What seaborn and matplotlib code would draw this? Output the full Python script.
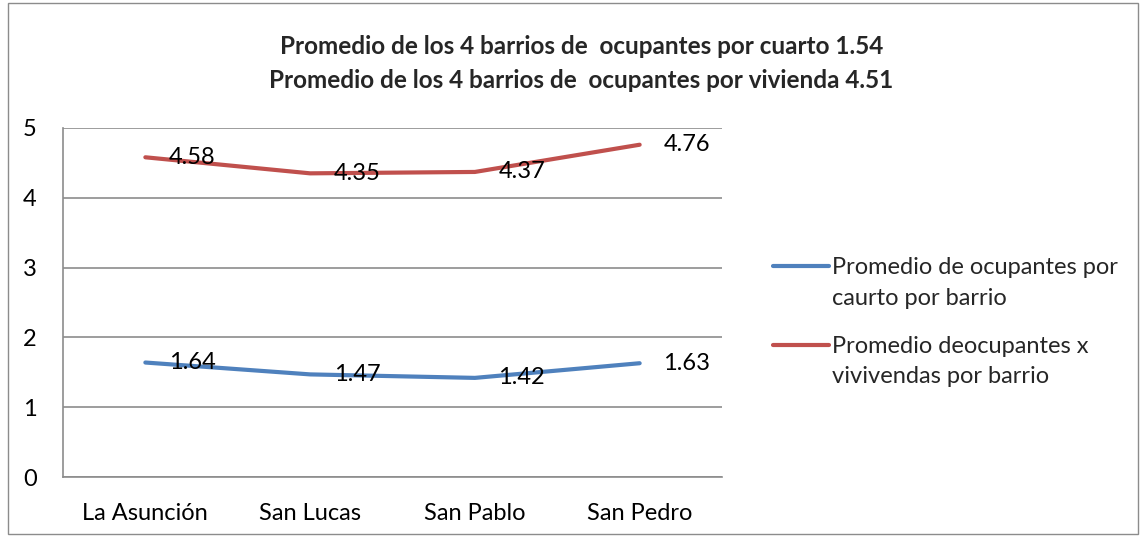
import matplotlib
matplotlib.use("Agg")
import matplotlib.pyplot as plt
import seaborn as sns
import pandas as pd
from matplotlib.patches import Rectangle
from matplotlib.legend_handler import HandlerLine2D

categories = ["La Asunción", "San Lucas", "San Pablo", "San Pedro"]
cuarto = [1.64, 1.47, 1.42, 1.63]
vivienda = [4.58, 4.35, 4.37, 4.76]
series_names = ["Promedio de ocupantes por\ncaurto por barrio",
                "Promedio deocupantes x\nvivivendas por barrio"]
title = ("Promedio de los 4 barrios de  ocupantes por cuarto 1.54\n"
         "Promedio de los 4 barrios de  ocupantes por vivienda 4.51")
colors = ["#4F81BD", "#C0504D"]

sns.set_theme(style="white")
plt.rcParams['font.family'] = ['Lato', 'DejaVu Sans']

FS = 17

df = pd.DataFrame({
    "x": list(range(len(categories))) * 2,
    "y": cuarto + vivienda,
    "serie": [series_names[0]] * 4 + [series_names[1]] * 4,
})


class ShiftedLine(HandlerLine2D):
    def __init__(self, dy, **kw):
        super().__init__(**kw)
        self.dy = dy

    def create_artists(self, legend, orig_handle, xdescent, ydescent,
                       width, height, fontsize, trans):
        arts = super().create_artists(legend, orig_handle, xdescent, ydescent,
                                      width, height, fontsize, trans)
        for a in arts:
            a.set_ydata([y + self.dy for y in a.get_ydata()])
        return arts


fig = plt.figure(figsize=(11.47, 5.37), dpi=100)
ax = fig.add_axes([0.0549, 0.1117, 0.5746, 0.650])
sns.lineplot(data=df, x="x", y="y", hue="serie", palette=colors, linewidth=3.0,
             ax=ax, legend=True, solid_capstyle="round")

ax.set_xlim(-0.5, 3.5)
ax.set_ylim(0, 5)
ax.set_xticks(range(len(categories)))
ax.set_xticklabels(categories)
ax.set_yticks(range(0, 6))
ax.tick_params(axis="x", length=0, pad=19, labelsize=FS, colors="black")
ax.tick_params(axis="y", length=0, pad=19, labelsize=FS, colors="black")
ax.set_xlabel("")
ax.set_ylabel("")
ax.yaxis.grid(True, color="#8c8c8c", linewidth=1.2)
ax.set_axisbelow(True)
for s in ["top", "right"]:
    ax.spines[s].set_visible(False)
for s in ["left", "bottom"]:
    ax.spines[s].set_color("#8c8c8c")
    ax.spines[s].set_linewidth(1.2)

for vals in (cuarto, vivienda):
    for i, v in enumerate(vals):
        ax.annotate(f"{v:.2f}", (i, v), xytext=(17, 0), textcoords="offset points",
                    ha="left", va="center", fontsize=FS, color="black")

handles, labels = ax.get_legend_handles_labels()
leg = ax.legend(handles, labels, loc="center left", bbox_to_anchor=(0.655, 0.40),
                bbox_transform=fig.transFigure, frameon=False, fontsize=FS,
                handlelength=2.4, handletextpad=0.12, labelspacing=1.15,
                handler_map={h: ShiftedLine(12.3) for h in handles})
for line in leg.get_lines():
    line.set_linewidth(3.0)
for t in leg.get_texts():
    t.set_linespacing(1.55)

fig.text(0.507, 0.882, title, ha="center", va="center", fontsize=17.5,
         fontweight="bold", linespacing=1.6)

fig.patches.append(Rectangle((0.007, 0.005), 0.985, 0.99, transform=fig.transFigure,
                             fill=False, edgecolor="#8c8c8c", linewidth=1))

fig.savefig("out.png", dpi=100)
